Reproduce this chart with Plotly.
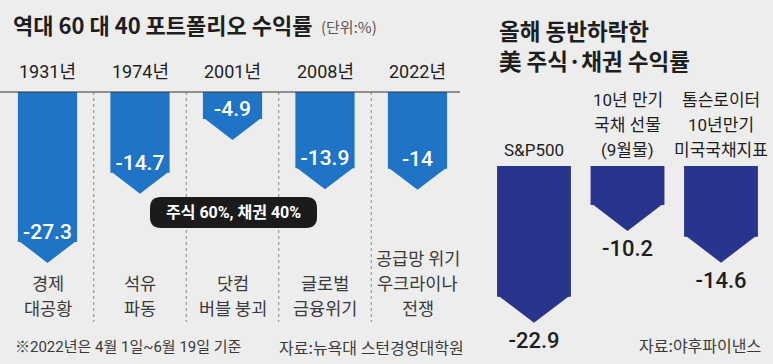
import plotly.graph_objects as go

# ---------------- data ----------------
left_years = ["1931년", "1974년", "2001년", "2008년", "2022년"]
left_events = [["경제", "대공황"], ["석유", "파동"], ["닷컴", "버블 붕괴"], ["글로벌", "금융위기"],
               ["공급망 위기", "우크라이나", "전쟁"]]
left_values = [-27.3, -14.7, -4.9, -13.9, -14]

right_labels = [["S&P500"], ["10년 만기", "국채 선물", "(9월물)"],
                ["톰슨로이터", "10년만기", "미국국채지표"]]
right_values = [-22.9, -10.2, -14.6]

left_title = "역대 60 대 40 포트폴리오 수익률"
left_unit = "(단위:%)"
pill_text = "주식 60%, 채권 40%"
right_title = ["올해 동반하락한", "美 주식·채권 수익률"]
note_left = "※2022년은 4월 1일~6월 19일 기준"
source_left = "자료:뉴욕대 스턴경영대학원"
source_right = "자료:야후파이낸스"

# ---------------- style ----------------
W, H = 773, 364
BG = "#ededed"
BLUE = "#1f74c6"
NAVY = "#29358d"
DARK = "#1e1e1e"
GRAY = "#3a3a3a"
KR = "Noto Sans CJK KR"
NUM = "Roboto, Noto Sans CJK KR"


def px(xp):
    return xp / W


def py(yp):
    return 1 - yp / H


# left panel scale: 92.5 px per category, 5.49 px per unit, zero at y=92px
L_STEP, L_C0, L_UNIT, L_ZERO = 92.5, 47.5, 5.49, 92
L_SPLIT = 470
# right panel scale
R_STEP, R_C0, R_UNIT, R_TOPPX, R_TOPV = 93.5, 534, 7.24, 166, -4.83

L_W = 0.64
L_TIP = 21 / L_UNIT
R_W = 0.79
R_TIP = 26 / R_UNIT

fig = go.Figure()

lx = list(range(len(left_values)))
rx = list(range(len(right_values)))

fig.add_trace(go.Bar(x=lx, y=left_values, width=L_W, marker=dict(color=BLUE, line=dict(width=0)),
                     xaxis="x", yaxis="y", hoverinfo="skip"))

tx, ty = [], []
for i, v in zip(lx, left_values):
    tx += [i - L_W / 2, i + L_W / 2, i, i - L_W / 2, None]
    ty += [v + 0.3, v + 0.3, v - L_TIP, v + 0.3, None]
fig.add_trace(go.Scatter(x=tx, y=ty, fill="toself", fillcolor=BLUE, mode="lines",
                         line=dict(width=0, color=BLUE), xaxis="x", yaxis="y", hoverinfo="skip"))

fig.add_trace(go.Scatter(x=lx, y=[v + 1.5 for v in left_values], mode="text",
                         text=[f"{v:g}" for v in left_values],
                         textfont=dict(family=NUM, size=21, color="white", weight=500),
                         xaxis="x", yaxis="y", cliponaxis=False, hoverinfo="skip"))

fig.add_trace(go.Bar(x=rx, y=right_values, width=R_W, marker=dict(color=NAVY, line=dict(width=0)),
                     xaxis="x2", yaxis="y2", hoverinfo="skip"))

tx, ty = [], []
for i, v in zip(rx, right_values):
    tx += [i - R_W / 2, i + R_W / 2, i, i - R_W / 2, None]
    ty += [v + 0.3, v + 0.3, v - R_TIP, v + 0.3, None]
fig.add_trace(go.Scatter(x=tx, y=ty, fill="toself", fillcolor=NAVY, mode="lines",
                         line=dict(width=0, color=NAVY), xaxis="x2", yaxis="y2", hoverinfo="skip"))

fig.add_trace(go.Scatter(x=rx, y=[v - R_TIP - 20 / R_UNIT for v in right_values], mode="text",
                         text=[f"{v:g}" for v in right_values],
                         textfont=dict(family=NUM, size=22, color=DARK, weight=500),
                         xaxis="x2", yaxis="y2", cliponaxis=False, hoverinfo="skip"))

shapes = []
# dotted separators
for i in range(len(left_values) - 1):
    shapes.append(dict(type="line", xref="x", yref="paper", x0=i + 0.5, x1=i + 0.5,
                       y0=py(92), y1=py(322), line=dict(color="#8a8a8a", width=1, dash="dot")))
# baseline
shapes.append(dict(type="line", xref="paper", yref="y", x0=0, x1=px(460), y0=0, y1=0,
                   line=dict(color="#333333", width=1.2)))
# pill
x0, x1, y0, y1, r = 150, 317, 197, 228, 11
path = (f"M {px(x0 + r)},{py(y0)} L {px(x1 - r)},{py(y0)} Q {px(x1)},{py(y0)} {px(x1)},{py(y0 + r)} "
        f"L {px(x1)},{py(y1 - r)} Q {px(x1)},{py(y1)} {px(x1 - r)},{py(y1)} "
        f"L {px(x0 + r)},{py(y1)} Q {px(x0)},{py(y1)} {px(x0)},{py(y1 - r)} "
        f"L {px(x0)},{py(y0 + r)} Q {px(x0)},{py(y0)} {px(x0 + r)},{py(y0)} Z")
shapes.append(dict(type="path", xref="paper", yref="paper", path=path,
                   fillcolor="#1b1b1b", line=dict(width=0)))

ann = []
ann.append(dict(text=f"<b>{left_title}</b>", x=px(11), y=py(24), xanchor="left", yanchor="middle",
                font=dict(family=KR, size=22, color=DARK)))
ann.append(dict(text=left_unit, x=px(319), y=py(27), xanchor="left", yanchor="middle",
                font=dict(family=KR, size=15, color="#555555")))
for k, t in enumerate(right_title):
    ann.append(dict(text=f"<b>{t}</b>", x=px(497), y=py(30 + 30 * k), xanchor="left", yanchor="middle",
                    font=dict(family=KR, size=22.5, color=DARK)))
for i, t in zip(lx, left_years):
    ann.append(dict(text=t, x=i, xref="x", y=py(72), xanchor="center", yanchor="middle",
                    font=dict(family=NUM, size=18, color=DARK)))
for i, lines in zip(lx, left_events):
    n = len(lines)
    for k, t in enumerate(lines):
        ann.append(dict(text=t, x=i, xref="x", y=py(307 - 25 * (n - 1 - k)), xanchor="center",
                        yanchor="middle", font=dict(family=KR, size=17.5, color=GRAY)))
for i, lines in zip(rx, right_labels):
    n = len(lines)
    for k, t in enumerate(lines):
        ann.append(dict(text=t, x=i, xref="x2", y=py(150 - 25 * (n - 1 - k)), xanchor="center",
                        yanchor="middle", font=dict(family=NUM, size=17, color=DARK)))
ann.append(dict(text=pill_text, x=px(233.5), y=py(212.5), xanchor="center", yanchor="middle",
                font=dict(family=NUM, size=16, color="white", weight="bold")))
ann.append(dict(text=note_left, x=px(13), y=py(347), xanchor="left", yanchor="middle",
                font=dict(family=NUM, size=15, color=GRAY)))
ann.append(dict(text=source_left, x=px(277), y=py(347), xanchor="left", yanchor="middle",
                font=dict(family=KR, size=16, color=GRAY)))
ann.append(dict(text=source_right, x=px(763), y=py(345), xanchor="right", yanchor="middle",
                font=dict(family=KR, size=16, color=GRAY)))
for a in ann:
    a.setdefault("xref", "paper")
    a["yref"] = "paper"
    a["showarrow"] = False

fig.update_layout(
    width=W, height=H, margin=dict(l=0, r=0, t=0, b=0),
    paper_bgcolor=BG, plot_bgcolor=BG, showlegend=False, barmode="overlay",
    xaxis=dict(domain=[0, px(L_SPLIT)], range=[(0 - L_C0) / L_STEP, (L_SPLIT - L_C0) / L_STEP],
               visible=False, fixedrange=True),
    yaxis=dict(domain=[0, 1], range=[-(H - L_ZERO) / L_UNIT, L_ZERO / L_UNIT],
               visible=False, fixedrange=True),
    xaxis2=dict(domain=[px(L_SPLIT), 1], range=[(L_SPLIT - R_C0) / R_STEP, (W - R_C0) / R_STEP],
                visible=False, fixedrange=True),
    yaxis2=dict(domain=[0, 1 - R_TOPPX / H], range=[R_TOPV - (H - R_TOPPX) / R_UNIT, R_TOPV],
                visible=False, fixedrange=True),
    shapes=shapes, annotations=ann,
)

fig.write_html("out.html", config=dict(displayModeBar=False),
               post_script="document.body.style.margin='0';document.body.style.overflow='hidden';")
